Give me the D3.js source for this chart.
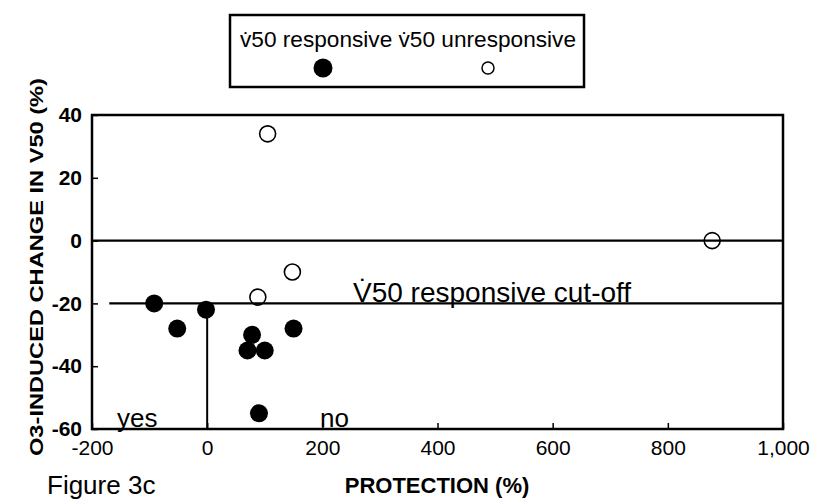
<!DOCTYPE html>
<html>
<head>
<meta charset="utf-8">
<script src="https://cdn.jsdelivr.net/npm/d3@7"></script>
<style>
  body { margin: 0; background: #fff; }
  svg { display: block; font-family: "Liberation Sans", Arial, sans-serif; }
</style>
</head>
<body>
<svg id="chart" width="815" height="501"></svg>
<script>
// values
const responsive = [
  { x: -92, y: -20 }, { x: -52, y: -28 }, { x: -2, y: -22 },
  { x: 78, y: -30 }, { x: 70, y: -35 }, { x: 100, y: -35 },
  { x: 150, y: -28 }, { x: 90, y: -55 }
];
const unresponsive = [
  { x: 105, y: 34 }, { x: 148, y: -10 }, { x: 88, y: -18 }, { x: 877, y: 0 }
];
const xTicks = [-200, 0, 200, 400, 600, 800, 1000];
const yTicks = [-60, -40, -20, 0, 20, 40];
const cutoff = -20;
const legendLabels = ["v\u030750 responsive", "v\u030750 unresponsive"];

const svg = d3.select("#chart");

const x = d3.scaleLinear().domain([-200, 1000]).range([92, 783]);
const y = d3.scaleLinear().domain([-60, 40]).range([429, 115]);

// plain hyphen instead of d3's unicode minus
const fmt = d => d3.format(",")(d).replace("\u2212", "-");

// axes, ticks pointing into the plot
const xAxis = d3.axisBottom(x).tickValues(xTicks).tickSizeInner(-6).tickSizeOuter(0)
  .tickPadding(11).tickFormat(fmt);
const yAxis = d3.axisLeft(y).tickValues(yTicks).tickSizeInner(-6).tickSizeOuter(0)
  .tickPadding(10).tickFormat(fmt);

const gx = svg.append("g").attr("transform", `translate(0,${y(-60)})`).call(xAxis);
gx.select(".domain").remove();
gx.selectAll("line").attr("stroke", "#000").attr("stroke-width", 1.5);
gx.selectAll("text").attr("font-size", 21).attr("fill", "#000");

const gy = svg.append("g").attr("transform", `translate(${x(-200)},0)`).call(yAxis);
gy.select(".domain").remove();
gy.selectAll("line").attr("stroke", "#000").attr("stroke-width", 1.5);
gy.selectAll("text").attr("font-size", 21).attr("font-weight", "bold").attr("fill", "#000");

// frame
svg.append("rect")
  .attr("x", x(-200)).attr("y", y(40))
  .attr("width", x(1000) - x(-200)).attr("height", y(-60) - y(40))
  .attr("fill", "none").attr("stroke", "#000").attr("stroke-width", 2.5);

// reference lines
svg.append("line")
  .attr("x1", x(-200)).attr("x2", x(1000)).attr("y1", y(0)).attr("y2", y(0))
  .attr("stroke", "#000").attr("stroke-width", 2.2);
svg.append("line")
  .attr("x1", x(-170)).attr("x2", x(1000)).attr("y1", y(cutoff)).attr("y2", y(cutoff))
  .attr("stroke", "#000").attr("stroke-width", 2.2);
svg.append("line")
  .attr("x1", x(0)).attr("x2", x(0)).attr("y1", y(cutoff)).attr("y2", y(-60))
  .attr("stroke", "#000").attr("stroke-width", 2);

// points
svg.append("g").selectAll("circle").data(responsive).join("circle")
  .attr("cx", d => x(d.x)).attr("cy", d => y(d.y)).attr("r", 9)
  .attr("fill", "#000");
svg.append("g").selectAll("circle").data(unresponsive).join("circle")
  .attr("cx", d => x(d.x)).attr("cy", d => y(d.y)).attr("r", 8)
  .attr("fill", "none").attr("stroke", "#000").attr("stroke-width", 1.6);

// annotations
svg.append("text").attr("x", 353).attr("y", 302)
  .attr("font-size", 28).text("V\u030750 responsive cut-off");
svg.append("text").attr("x", 117).attr("y", 427).attr("font-size", 26).text("yes");
svg.append("text").attr("x", 320).attr("y", 427).attr("font-size", 26).text("no");

// axis titles
svg.append("text")
  .attr("transform", "translate(43,267) rotate(-90)")
  .attr("text-anchor", "middle").attr("font-size", 19).attr("font-weight", "bold")
  .attr("textLength", 378).attr("lengthAdjust", "spacingAndGlyphs")
  .text("O3-INDUCED CHANGE IN V50 (%)");
svg.append("text").attr("x", 437).attr("y", 493)
  .attr("text-anchor", "middle").attr("font-size", 22).attr("font-weight", "bold")
  .text("PROTECTION (%)");
svg.append("text").attr("x", 47).attr("y", 494).attr("font-size", 26).text("Figure 3c");

// legend
const legend = svg.append("g");
legend.append("rect").attr("x", 230).attr("y", 15).attr("width", 354).attr("height", 72)
  .attr("fill", "none").attr("stroke", "#000").attr("stroke-width", 2.5);
legend.append("text").attr("x", 240).attr("y", 47).attr("font-size", 22.5)
  .attr("textLength", 336).attr("lengthAdjust", "spacingAndGlyphs")
  .text(legendLabels.join(" "));
legend.append("circle").attr("cx", 323).attr("cy", 68).attr("r", 9.5).attr("fill", "#000");
legend.append("circle").attr("cx", 488).attr("cy", 68).attr("r", 6)
  .attr("fill", "none").attr("stroke", "#000").attr("stroke-width", 1.5);
</script>
</body>
</html>
